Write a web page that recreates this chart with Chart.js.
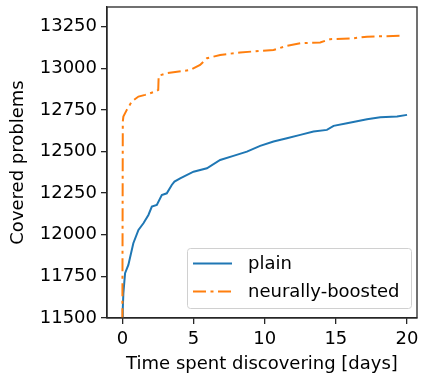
<!DOCTYPE html>
<html>
<head>
<meta charset="utf-8">
<script src="https://cdn.jsdelivr.net/npm/chart.js@4/dist/chart.umd.min.js"></script>
<style>
  html, body { margin: 0; padding: 0; background: #fff; }
  #wrap { width: 421px; height: 375px; }
</style>
</head>
<body>
<div id="wrap"><canvas id="coverChart" width="421" height="375"></canvas></div>
<script>
// days spent discovering vs. number of covered problems
const plainDays = [0, 0.03, 0.07, 0.19, 0.42, 0.77, 1.13, 1.48, 1.83, 2.07, 2.42, 2.77, 3.12, 3.47, 3.66,
  4.06, 5.0, 5.94, 6.87, 7.8, 8.75, 9.68, 10.62, 11.56, 12.5, 13.43, 14.37, 14.84, 15.78, 17.19, 18.12, 19.3, 20.0];
const plainCovered = [11480, 11560, 11648, 11769, 11819, 11949, 12029, 12069, 12119, 12169, 12179, 12239, 12249, 12299, 12319,
  12339, 12379, 12399, 12449, 12474, 12499, 12534, 12560, 12580, 12600, 12620, 12630, 12654, 12670, 12694, 12706, 12710, 12720];

const boostedDays = [0, 0.03, 0.07, 0.31, 0.66, 1.13, 1.6, 2.3, 2.52, 2.55, 3.12, 4.76, 5.46, 5.94, 6.87,
  8.27, 10.62, 11.56, 12.5, 13.9, 14.61, 16.24, 17.19, 19.48];
const boostedCovered = [11480, 12680, 12710, 12750, 12800, 12830, 12840, 12860, 12870, 12955, 12970, 12990, 13020, 13060, 13080,
  13095, 13110, 13135, 13150, 13155, 13175, 13180, 13190, 13195];

const xTicks = [0, 5, 10, 15, 20];
const yTicks = [11500, 11750, 12000, 12250, 12500, 12750, 13000, 13250];

const toPoints = (xs, ys) => xs.map((x, i) => ({ x: x, y: ys[i] }));
const FONT = { family: 'DejaVu Sans', size: 18 };

// draws the top/right spines and the matplotlib-like legend box
const framePlugin = {
  id: 'frame',
  afterDatasetsDraw(chart) {
    const ctx = chart.ctx;
    const a = chart.chartArea;
    ctx.save();
    ctx.strokeStyle = '#262626';
    ctx.lineWidth = 1.3;
    ctx.strokeRect(a.left, a.top, a.right - a.left, a.bottom - a.top);

    // legend
    const bx = 187, by = 248, bw = 224, bh = 60;
    ctx.fillStyle = 'rgba(255,255,255,0.8)';
    ctx.strokeStyle = '#d0d0d0';
    ctx.lineWidth = 1;
    ctx.beginPath();
    ctx.roundRect(bx + 0.5, by + 0.5, bw, bh, 3);
    ctx.fill();
    ctx.stroke();
    ctx.font = '18px "DejaVu Sans"';
    ctx.textBaseline = 'middle';
    const rows = [chart.data.datasets[0], chart.data.datasets[1]];
    rows.forEach((ds, i) => {
      const ly = by + 15.5 + i * 28;
      ctx.strokeStyle = ds.borderColor;
      ctx.lineWidth = ds.borderWidth;
      ctx.setLineDash(ds.borderDash || []);
      ctx.beginPath();
      ctx.moveTo(bx + 6, ly);
      ctx.lineTo(bx + 45, ly);
      ctx.stroke();
      ctx.setLineDash([]);
      ctx.fillStyle = '#000';
      ctx.fillText(ds.label, bx + 61, ly + 1);
    });
    ctx.restore();
  }
};

new Chart(document.getElementById('coverChart').getContext('2d'), {
  type: 'line',
  data: {
    datasets: [
      {
        label: 'plain',
        data: toPoints(plainDays, plainCovered),
        borderColor: '#1f77b4',
        borderWidth: 2,
        pointRadius: 0,
        tension: 0,
        fill: false,
        order: 1
      },
      {
        label: 'neurally-boosted',
        data: toPoints(boostedDays, boostedCovered),
        borderColor: '#ff7f0e',
        borderWidth: 2,
        borderDash: [13, 4.5, 3, 4.5],
        pointRadius: 0,
        tension: 0,
        fill: false,
        order: 0
      }
    ]
  },
  options: {
    responsive: false,
    animation: false,
    layout: { padding: { top: 7, right: 4, left: 0, bottom: 0 } },
    plugins: {
      legend: { display: false },
      tooltip: { enabled: false }
    },
    scales: {
      x: {
        type: 'linear',
        min: -1.08,
        max: 20.7,
        afterBuildTicks: (s) => { s.ticks = xTicks.map(v => ({ value: v })); },
        afterFit: (s) => { s.height = 57; s.paddingLeft = 0; s.paddingRight = 0; },
        grid: { drawOnChartArea: false, drawTicks: true, tickLength: 6, color: '#262626', lineWidth: 1.3 },
        border: { display: true, color: '#262626', width: 1.3 },
        ticks: { color: '#000', font: FONT, padding: 5, maxRotation: 0, callback: v => String(v) },
        title: { display: true, text: 'Time spent discovering [days]', color: '#000',
                 font: FONT, padding: { top: 0, bottom: 0 } }
      },
      y: {
        type: 'linear',
        min: 11500,
        max: 13368,
        afterBuildTicks: (s) => { s.ticks = yTicks.map(v => ({ value: v })); },
        afterFit: (s) => { s.width = 107; s.paddingTop = 0; s.paddingBottom = 0; },
        grid: { drawOnChartArea: false, drawTicks: true, tickLength: 6, color: '#262626', lineWidth: 1.3 },
        border: { display: true, color: '#262626', width: 1.3 },
        ticks: { color: '#000', font: FONT, padding: 4, callback: v => String(v) },
        title: { display: true, text: 'Covered problems', color: '#000',
                 font: FONT, padding: { top: 8, bottom: 0 } }
      }
    }
  },
  plugins: [framePlugin]
});
</script>
</body>
</html>
